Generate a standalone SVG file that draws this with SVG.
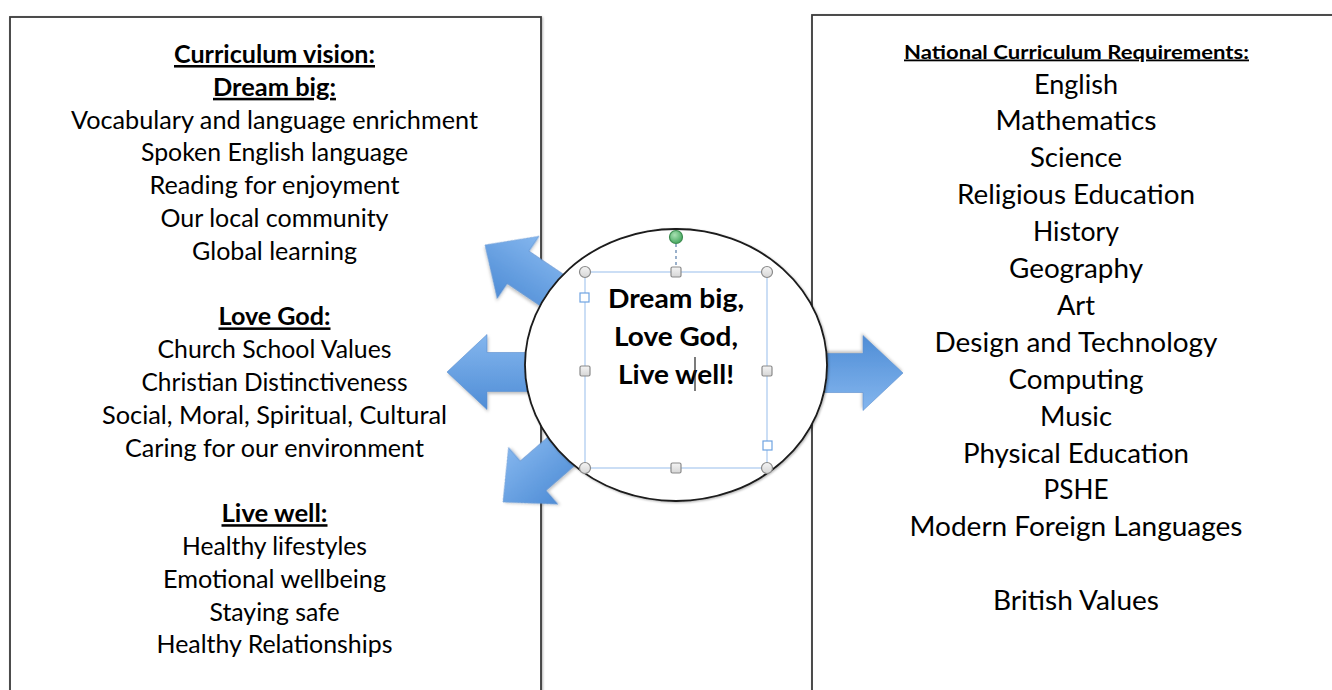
<svg xmlns="http://www.w3.org/2000/svg" width="1332" height="690" viewBox="0 0 1332 690">
<style>
  text { font-family: Lato, "Open Sans", "Liberation Sans", sans-serif; fill: #000; text-anchor: middle; }
  .l { font-size: 24.5px; }
  .lh { font-size: 25.5px; font-weight: 700; text-decoration: underline; }
  .r { font-size: 27px; }
  .rh { font-size: 18px; font-weight: 700; text-decoration: underline; }
  .c { font-size: 27px; font-weight: 700; }
  .box { fill: #fff; stroke: #3a3a3a; stroke-width: 1.8; }
  .arrow { fill: url(#ag); stroke: #5a8fcf; stroke-width: 0.6; filter: url(#sh); }
  .sel { fill: none; stroke: #a9c8ee; stroke-width: 1.2; }
  .hc { fill: url(#hg); stroke: #8a8a8a; stroke-width: 1.2; }
  .hs { fill: url(#hg); stroke: #8a8a8a; stroke-width: 1.2; }
  .hb { fill: #fff; stroke: #6fa3e2; stroke-width: 1.2; }
</style>
<defs>
  <linearGradient id="ag" x1="0" y1="0" x2="0" y2="1">
    <stop offset="0" stop-color="#84b6ee"/>
    <stop offset="1" stop-color="#4f8dd6"/>
  </linearGradient>
  <linearGradient id="hg" x1="0" y1="0" x2="0" y2="1">
    <stop offset="0" stop-color="#f4f4f4"/>
    <stop offset="1" stop-color="#d6d6d6"/>
  </linearGradient>
  <radialGradient id="gg" cx="0.4" cy="0.35" r="0.7">
    <stop offset="0" stop-color="#a8e0b2"/>
    <stop offset="1" stop-color="#3fa55a"/>
  </radialGradient>
  <filter id="sh" x="-20%" y="-20%" width="140%" height="140%">
    <feDropShadow dx="1" dy="2" stdDeviation="1.5" flood-color="#000" flood-opacity="0.25"/>
  </filter>
  <filter id="bs" x="-5%" y="-5%" width="110%" height="110%">
    <feDropShadow dx="1" dy="1" stdDeviation="1" flood-color="#000" flood-opacity="0.3"/>
  </filter>
  <path id="arr" d="M0,0 L40,-37.5 L40,-19.5 L130,-19.5 L130,19.5 L40,19.5 L40,37.5 Z"/>
</defs>

<rect width="1332" height="690" fill="#fff"/>

<g id="vision-box">
  <rect class="box" x="10" y="17" width="531" height="690" filter="url(#bs)"/>
  <text class="lh" x="274.5" y="63" textLength="201" lengthAdjust="spacingAndGlyphs">Curriculum vision:</text>
  <text class="lh" x="274.5" y="95.8" textLength="123" lengthAdjust="spacingAndGlyphs">Dream big:</text>
  <text class="l" x="274.5" y="128.6" textLength="407" lengthAdjust="spacingAndGlyphs">Vocabulary and language enrichment</text>
  <text class="l" x="274.5" y="161.4" textLength="267" lengthAdjust="spacingAndGlyphs">Spoken English language</text>
  <text class="l" x="274.5" y="194.2" textLength="250" lengthAdjust="spacingAndGlyphs">Reading for enjoyment</text>
  <text class="l" x="274.5" y="227" textLength="228" lengthAdjust="spacingAndGlyphs">Our local community</text>
  <text class="l" x="274.5" y="259.8" textLength="165" lengthAdjust="spacingAndGlyphs">Global learning</text>
  <text class="lh" x="274.5" y="325.4" textLength="112" lengthAdjust="spacingAndGlyphs">Love God:</text>
  <text class="l" x="274.5" y="358.2" textLength="234" lengthAdjust="spacingAndGlyphs">Church School Values</text>
  <text class="l" x="274.5" y="391" textLength="266" lengthAdjust="spacingAndGlyphs">Christian Distinctiveness</text>
  <text class="l" x="274.5" y="423.8" textLength="345" lengthAdjust="spacingAndGlyphs">Social, Moral, Spiritual, Cultural</text>
  <text class="l" x="274.5" y="456.6" textLength="299" lengthAdjust="spacingAndGlyphs">Caring for our environment</text>
  <text class="lh" x="274.5" y="522.2" textLength="106" lengthAdjust="spacingAndGlyphs">Live well:</text>
  <text class="l" x="274.5" y="555" textLength="185" lengthAdjust="spacingAndGlyphs">Healthy lifestyles</text>
  <text class="l" x="274.5" y="587.8" textLength="223" lengthAdjust="spacingAndGlyphs">Emotional wellbeing</text>
  <text class="l" x="274.5" y="620.6" textLength="130" lengthAdjust="spacingAndGlyphs">Staying safe</text>
  <text class="l" x="274.5" y="653.4" textLength="236" lengthAdjust="spacingAndGlyphs">Healthy Relationships</text>
</g>

<g id="national-box">
  <rect class="box" x="812" y="15" width="560" height="690" filter="url(#bs)"/>
  <text class="rh" x="1076.5" y="58.5" textLength="345" lengthAdjust="spacingAndGlyphs">National Curriculum Requirements:</text>
  <text class="r" x="1076" y="93.5" textLength="84" lengthAdjust="spacingAndGlyphs">English</text>
  <text class="r" x="1076" y="130.4" textLength="161" lengthAdjust="spacingAndGlyphs">Mathematics</text>
  <text class="r" x="1076" y="167.3" textLength="92" lengthAdjust="spacingAndGlyphs">Science</text>
  <text class="r" x="1076" y="204.2" textLength="238" lengthAdjust="spacingAndGlyphs">Religious Education</text>
  <text class="r" x="1076" y="241.1" textLength="86" lengthAdjust="spacingAndGlyphs">History</text>
  <text class="r" x="1076" y="278" textLength="134" lengthAdjust="spacingAndGlyphs">Geography</text>
  <text class="r" x="1076" y="314.9" textLength="38" lengthAdjust="spacingAndGlyphs">Art</text>
  <text class="r" x="1076" y="351.8" textLength="283" lengthAdjust="spacingAndGlyphs">Design and Technology</text>
  <text class="r" x="1076" y="388.7" textLength="135" lengthAdjust="spacingAndGlyphs">Computing</text>
  <text class="r" x="1076" y="425.6" textLength="72" lengthAdjust="spacingAndGlyphs">Music</text>
  <text class="r" x="1076" y="462.5" textLength="226" lengthAdjust="spacingAndGlyphs">Physical Education</text>
  <text class="r" x="1076" y="499.4" textLength="65" lengthAdjust="spacingAndGlyphs">PSHE</text>
  <text class="r" x="1076" y="536.3" textLength="333" lengthAdjust="spacingAndGlyphs">Modern Foreign Languages</text>
  <text class="r" x="1076" y="610.1" textLength="166" lengthAdjust="spacingAndGlyphs">British Values</text>
</g>

<g id="connectors">
  <use href="#arr" class="arrow" transform="translate(485,245) rotate(34)"/>
  <use href="#arr" class="arrow" transform="translate(447,372)"/>
  <use href="#arr" class="arrow" transform="translate(503,502) rotate(-41)"/>
  <use href="#arr" class="arrow" transform="translate(903,373) rotate(180)"/>
</g>

<g id="centre">
  <ellipse cx="676" cy="365" rx="151" ry="136" fill="#fff" stroke="#1a1a1a" stroke-width="1.8" filter="url(#bs)"/>
  <rect class="sel" x="585" y="272" width="182" height="196"/>
  <line x1="676" y1="244" x2="676" y2="267" stroke="#6f8fb5" stroke-width="1.4" stroke-dasharray="3,3"/>
  <circle cx="676" cy="237" r="6.5" fill="url(#gg)" stroke="#3d8c50" stroke-width="1.2"/>
  <circle class="hc" cx="585" cy="272" r="5.5"/>
  <circle class="hc" cx="767" cy="272" r="5.5"/>
  <circle class="hc" cx="585" cy="468" r="5.5"/>
  <circle class="hc" cx="767" cy="468" r="5.5"/>
  <rect class="hs" x="671" y="267" width="10" height="10" rx="1.5"/>
  <rect class="hs" x="671" y="463" width="10" height="10" rx="1.5"/>
  <rect class="hs" x="580" y="366" width="10" height="10" rx="1.5"/>
  <rect class="hs" x="762" y="366" width="10" height="10" rx="1.5"/>
  <rect class="hb" x="580" y="293" width="9" height="9"/>
  <rect class="hb" x="763" y="441" width="9" height="9"/>
  <text class="c" x="676" y="308" textLength="136" lengthAdjust="spacingAndGlyphs">Dream big,</text>
  <text class="c" x="676" y="346" textLength="124" lengthAdjust="spacingAndGlyphs">Love God,</text>
  <text class="c" x="676" y="384" textLength="116" lengthAdjust="spacingAndGlyphs">Live well!</text>
  <line x1="695" y1="357" x2="695" y2="391" stroke="#222" stroke-width="1.2"/>
</g>
</svg>
